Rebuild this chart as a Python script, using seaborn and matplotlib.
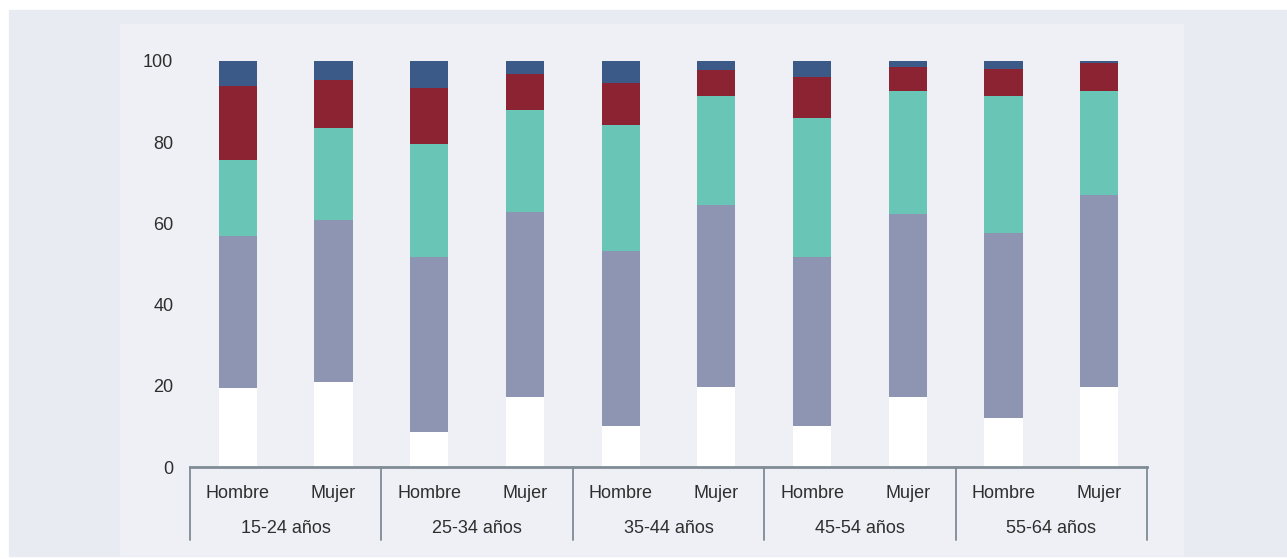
import pandas as pd
import seaborn as sns
import matplotlib.pyplot as plt
from matplotlib.patches import Rectangle

# data (percent of each bar, bottom to top)
groups = ["15-24 años", "25-34 años", "35-44 años", "45-54 años", "55-64 años"]
sexes = ["Hombre", "Mujer"]
seg_white = [19.4, 21.0, 8.7, 17.2, 10.0, 19.8, 10.0, 17.2, 12.0, 19.8]
seg_grey = [37.5, 39.9, 43.1, 45.7, 43.2, 44.7, 41.8, 45.1, 45.7, 47.2]
seg_teal = [18.7, 22.5, 27.8, 25.0, 31.0, 26.9, 34.2, 30.3, 33.8, 25.6]
seg_red = [18.3, 11.9, 13.7, 8.8, 10.5, 6.5, 10.1, 6.0, 6.5, 6.8]
seg_blue = [6.1, 4.7, 6.7, 3.3, 5.3, 2.1, 3.9, 1.4, 2.0, 0.6]

segments = [seg_white, seg_grey, seg_teal, seg_red, seg_blue]
colors = ["#ffffff", "#8d95b2", "#69c6b7", "#8c2332", "#3c5a88"]

bars = [g + "|" + s for g in groups for s in sexes]
df = pd.DataFrame({"bar": bars})
total = [0.0] * len(bars)
for i, seg in enumerate(segments):
    total = [t + v for t, v in zip(total, seg)]
    df["top%d" % i] = total

sns.set_style("white")
plt.rcParams["font.family"] = ["Liberation Sans", "DejaVu Sans"]
text_col = "#2e2e2e"
line_col = "#7f8c95"

fig = plt.figure(figsize=(12.87, 5.59), dpi=100, facecolor="white")
W, H = 1287, 559
# outer and inner background panels (behind the axes)
fig.patches.append(Rectangle((9 / W, 1 - 556 / H), 1 - 9 / W, (556 - 10) / H,
                             transform=fig.transFigure, color="#e9ebf3", zorder=-2))
fig.patches.append(Rectangle((120 / W, 1 - 555 / H), (1183 - 120) / W, (555 - 24) / H,
                             transform=fig.transFigure, color="#eff0f5", zorder=-1))

ax = fig.add_axes([190 / W, (H - 467) / H, (1147 - 190) / W, (467 - 61) / H])
ax.set_facecolor("none")

# stacked bars drawn tallest first so lower layers overlay
for i in reversed(range(len(segments))):
    sns.barplot(data=df, x="bar", y="top%d" % i, color=colors[i], width=0.4,
                saturation=1, linewidth=0, ax=ax)

ax.set_xlim(-0.5, len(bars) - 0.5)
ax.set_ylim(0, 100)
ax.set_yticks([0, 20, 40, 60, 80, 100])
ax.set_xlabel("")
ax.set_ylabel("")
ax.tick_params(axis="y", length=0, pad=12, labelsize=13, labelcolor=text_col)
ax.set_xticks(range(len(bars)))
ax.set_xticklabels([s for g in groups for s in sexes])
ax.tick_params(axis="x", length=0, pad=13, labelsize=13, labelcolor=text_col)

for side in ["top", "right", "left"]:
    ax.spines[side].set_visible(False)
ax.spines["bottom"].set_color(line_col)
ax.spines["bottom"].set_linewidth(2)

# group separators and group labels
tr = ax.get_xaxis_transform()
for k in range(len(groups) + 1):
    xd = 2 * k - 0.5
    ax.plot([xd, xd], [0, -0.18], transform=tr, color=line_col, lw=1.3, clip_on=False)
for k, g in enumerate(groups):
    ax.text(2 * k + 0.5, -0.152, g, transform=tr, ha="center", va="center",
            fontsize=13, color=text_col)

fig.savefig("out.png", dpi=100, facecolor="white")
